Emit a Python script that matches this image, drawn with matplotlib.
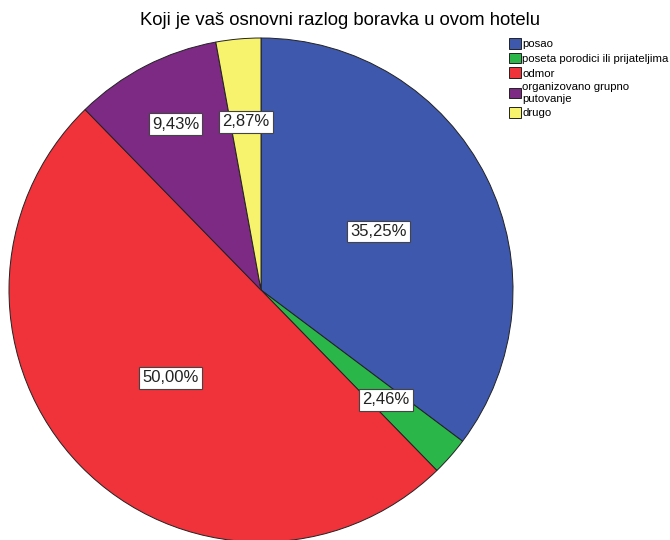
import numpy as np
import matplotlib
matplotlib.use("Agg")
import matplotlib.pyplot as plt
from matplotlib.patches import Patch

plt.rcParams['font.family'] = ['Liberation Sans', 'DejaVu Sans']

categories = ['posao', 'poseta porodici ili prijateljima', 'odmor',
              'organizovano grupno\nputovanje', 'drugo']
shares = [35.25, 2.46, 50.00, 9.43, 2.87]
pct_labels = ['35,25%', '2,46%', '50,00%', '9,43%', '2,87%']
colors = ['#3E58AE', '#2BB64A', '#F0323B', '#7D2A85', '#F8F36C']
label_dist = [0.52, 0.66, 0.50, 0.74, 0.67]

fig = plt.figure(figsize=(6.7, 5.4), dpi=100)
# square axes centred at (261, 290) px, radius 252 px
ax = fig.add_axes([9 / 670, -2 / 540, 504 / 670, 504 / 540])
wedges, _ = ax.pie(shares, colors=colors, startangle=90, counterclock=False,
                   radius=1.0, wedgeprops=dict(edgecolor='#222222', linewidth=0.7))
ax.set_xlim(-1, 1)
ax.set_ylim(-1, 1)
ax.axis('off')

for w, txt, d in zip(wedges, pct_labels, label_dist):
    mid = np.deg2rad((w.theta1 + w.theta2) / 2)
    ax.text(d * np.cos(mid), d * np.sin(mid), txt, ha='center', va='center',
            fontsize=12, color='#222222',
            bbox=dict(boxstyle='square,pad=0.2', fc='white', ec='#444444', lw=0.8))

fig.text(0.507, 0.962, 'Koji je vaš osnovni razlog boravka u ovom hotelu',
         ha='center', va='center', fontsize=13.3, color='black')

handles = [Patch(facecolor=c, edgecolor='#222222', linewidth=0.7) for c in colors]
fig.legend(handles, categories, loc='upper left', bbox_to_anchor=(0.76, 0.93),
           frameon=False, fontsize=8.2, handlelength=1.0, handleheight=1.1,
           handletextpad=0.15, labelspacing=0.3, borderpad=0.0, borderaxespad=0.0)

fig.savefig('out.png', dpi=100)
